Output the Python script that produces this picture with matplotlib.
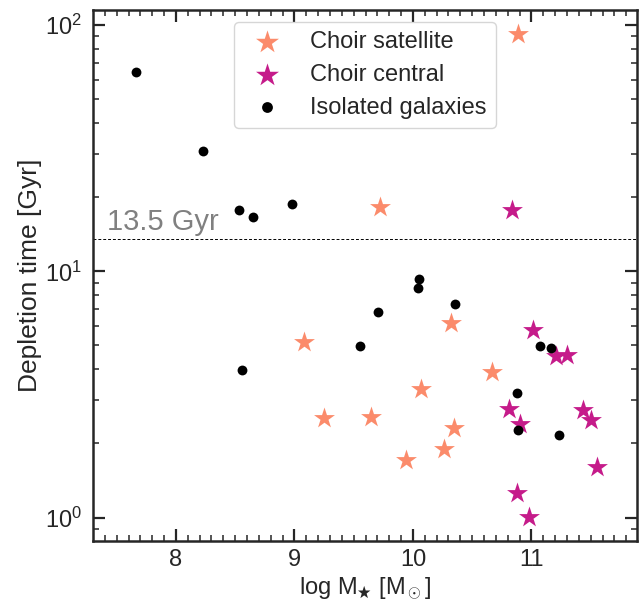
import matplotlib
matplotlib.use("Agg")
import matplotlib.pyplot as plt
import numpy as np

plt.rcParams["font.family"] = ["Liberation Sans", "DejaVu Sans"]
plt.rcParams["mathtext.fontset"] = "custom"
plt.rcParams["mathtext.rm"] = "Liberation Sans"
plt.rcParams["mathtext.it"] = "Liberation Sans:italic"
plt.rcParams["text.color"] = "#262626"
plt.rcParams["axes.labelcolor"] = "#262626"
plt.rcParams["xtick.color"] = "#262626"
plt.rcParams["ytick.color"] = "#262626"
plt.rcParams["axes.edgecolor"] = "#262626"

# Choir satellites
sat_mass = [10.89, 9.72, 9.08, 10.32, 10.67, 10.07, 9.25, 9.645, 10.35, 10.26, 9.94]
sat_tdep = [91.8, 18.3, 5.15, 6.19, 3.89, 3.34, 2.54, 2.56, 2.32, 1.90, 1.71]

# Choir centrals
cen_mass = [10.84, 11.01, 11.21, 11.30, 10.81, 11.435, 11.50, 10.90, 11.55, 10.874, 10.976]
cen_tdep = [17.8, 5.78, 4.54, 4.56, 2.76, 2.74, 2.49, 2.40, 1.61, 1.26, 1.01]

# Isolated galaxies
iso_mass = [7.665, 8.23, 8.535, 8.652, 8.978, 8.557, 10.047, 10.039, 10.357,
            9.705, 9.555, 11.074, 11.165, 10.878, 10.89, 11.23]
iso_tdep = [64.5, 30.8, 17.8, 16.6, 18.7, 3.99, 9.31, 8.54, 7.35,
            6.82, 4.96, 4.98, 4.89, 3.21, 2.26, 2.17]

hubble_time = 13.5

fig = plt.figure(figsize=(6.44, 6.04), dpi=100)
ax = fig.add_axes([0.1444, 0.1048, 0.8446, 0.8786])

ax.scatter(sat_mass, sat_tdep, marker="*", s=250, color="#fb8b6b",
           linewidths=0, label="Choir satellite")
ax.scatter(cen_mass, cen_tdep, marker="*", s=250, color="#c51b8a",
           linewidths=0, label="Choir central")
ax.scatter(iso_mass, iso_tdep, marker="o", s=50, color="black",
           linewidths=0, label="Isolated galaxies")

ax.axhline(hubble_time, color="black", ls="--", lw=0.7, dashes=(3, 2))
ax.text(7.42, hubble_time * 1.03, "13.5 Gyr", color="gray", fontsize=21,
        ha="left", va="bottom")

ax.set_yscale("log")
ax.set_xlim(7.30, 11.89)
ax.set_ylim(0.806, 115)

ax.set_xticks([8, 9, 10, 11])
ax.set_xticks(np.arange(7.4, 11.9, 0.1), minor=True)

for s in ax.spines.values():
    s.set_linewidth(1.8)
ax.tick_params(which="major", direction="in", length=8.5, width=1.6,
               top=True, right=True, labelsize=17, pad=8)
ax.tick_params(axis="x", which="major", pad=6)
ax.tick_params(which="minor", direction="in", length=4, width=1.1,
               top=True, right=True)

ax.set_xlabel(r"log M$_\bigstar$ [M$_\odot$]", fontsize=17)
ax.xaxis.set_label_coords(0.5, -0.1155, transform=ax.transAxes)
ax.xaxis.label.set_va("bottom")
ax.set_ylabel("Depletion time [Gyr]", fontsize=19, labelpad=2)

leg = ax.legend(loc="upper center", bbox_to_anchor=(0.5, 1.0), fontsize=17,
                frameon=True, fancybox=True, handletextpad=0.8,
                borderpad=0.4, labelspacing=0.45, markerscale=1.1)
leg.get_frame().set_edgecolor("#cccccc")
leg.get_frame().set_linewidth(1.0)

fig.savefig("out.png", dpi=100)
